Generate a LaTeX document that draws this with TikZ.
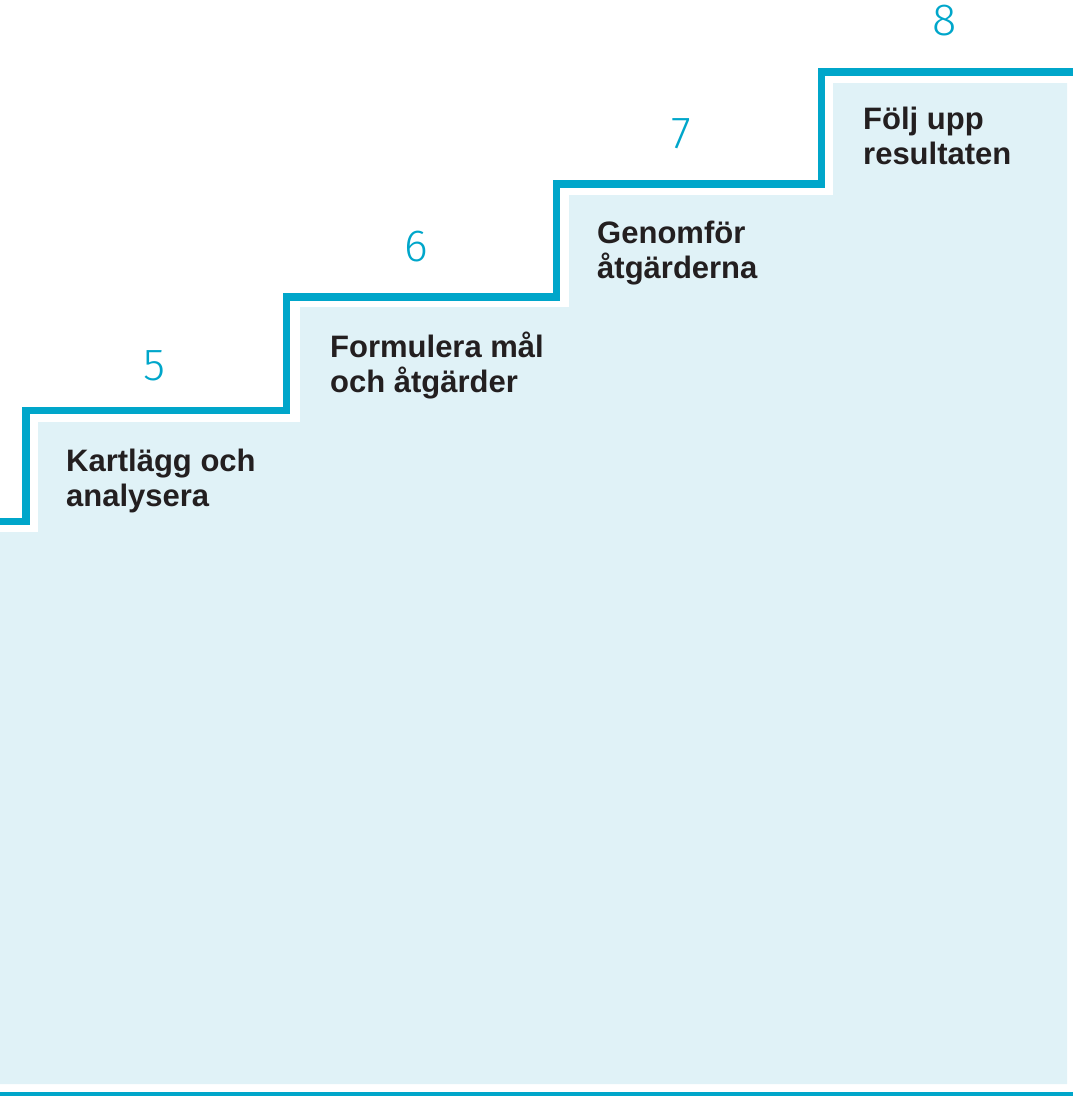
\documentclass[tikz,border=0pt]{standalone}
\usepackage{fontspec}
\setmainfont{Liberation Sans}
\newfontfamily\stepnumfont{Fira Sans Light}
\usepackage{xcolor}
\usepackage{tikz}
\definecolor{stairblue}{RGB}{0,166,202}
\definecolor{stairfill}{RGB}{224,242,247}
\definecolor{inkdark}{RGB}{35,31,32}

\begin{document}
\begin{tikzpicture}[
      x=1pt, y=-1pt,
      stair/.style={draw=stairblue, line width=7.2pt},
      stepnum/.style={font=\stepnumfont\fontsize{45}{45}\selectfont, text=stairblue, anchor=base, inner sep=0pt},
      steplabel/.style={font=\bfseries\fontsize{31}{35}\selectfont, text=inkdark, anchor=base west, align=left, inner sep=0pt}
    ]
      \useasboundingbox (0,0) rectangle (1073,1096);
      % light area under the stairs
      \fill[stairfill] (0,532) -- (38,532) -- (38,422) -- (300,422) -- (300,307)
        -- (569,307) -- (569,195) -- (833,195) -- (833,83) -- (1067,83)
        -- (1067,1084) -- (0,1084) -- cycle;
      % the stairs
      \draw[stair] (0,521.5) -- (26,521.5) -- (26,410.5) -- (286.5,410.5) -- (286.5,297)
        -- (556.5,297) -- (556.5,184) -- (821.5,184) -- (821.5,72) -- (1073,72);
      \fill[stairblue] (0,1092) rectangle (1073,1096);
      % numbers and texts (base = last line)
      \foreach \n/\nx/\ny/\lx/\ly/\txt in {
          5/154.5/380/66/506/{Kartlägg och\\analysera},
          6/416/261/330/392/{Formulera mål\\och åtgärder},
          7/681/148/597/278/{Genomför\\åtgärderna},
          8/944.5/35/863/164/{Följ upp\\resultaten}} {
        \node[stepnum] (num\n) at (\nx,\ny) {\n};
        \node[steplabel] (label\n) at (\lx,\ly) {\txt};
      }
    \end{tikzpicture}
\end{document}
